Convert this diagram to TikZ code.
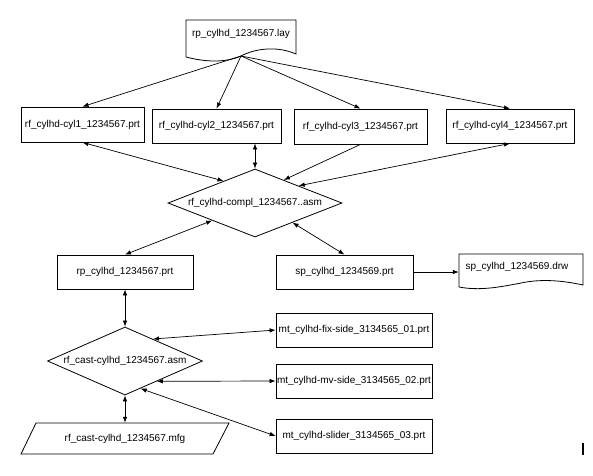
\documentclass[tikz,border=0pt]{standalone}
\usepackage{fontspec}
\setmainfont{Liberation Sans}
\usetikzlibrary{shapes.geometric,arrows.meta,calc}
\begin{document}
\begin{tikzpicture}[x=1pt,y=-1pt,
  txt/.style={font=\fontsize{10}{12}\selectfont, inner sep=0pt},
  box/.style={txt, draw, line width=0.8pt, rectangle},
  dia/.style={txt, draw, line width=0.8pt, diamond},
  ln/.style={line width=0.7pt},
  arr/.style={ln, -{Latex[length=6pt,width=4.5pt]}},
  biarr/.style={ln, {Latex[length=6pt,width=4.5pt]}-{Latex[length=6pt,width=4.5pt]}}]
\useasboundingbox (0,0) rectangle (593,475);
% document shape: lay
\draw[line width=0.8pt] (186,57) -- (186,20) -- (296,20) -- (296,54)
  .. controls (278,46) and (256,48) .. (241,56)
  .. controls (225,63) and (205,62) .. (186,57);
\node[txt] (lay) at (241,34) {rp\_cylhd\_1234567.lay};
\coordinate (layb) at (241,56);
% boxes
\node[box, minimum width=123pt, minimum height=35pt] (cyl1) at (82.5,124.5) {rf\_cylhd-cyl1\_1234567.prt};
\node[box, minimum width=129pt, minimum height=34pt] (cyl2) at (216.5,126) {rf\_cylhd-cyl2\_1234567.prt};
\node[box, minimum width=133pt, minimum height=35pt] (cyl3) at (360.5,126.5) {rf\_cylhd-cyl3\_1234567.prt};
\node[box, minimum width=128pt, minimum height=34pt] (cyl4) at (510,126) {rf\_cylhd-cyl4\_1234567.prt};
\node[dia, minimum width=174pt, minimum height=68pt, aspect=2.56] (compl) at (255,203) {rf\_cylhd-compl\_1234567..asm};
\node[box, minimum width=136pt, minimum height=34pt] (rp) at (125,272) {rp\_cylhd\_1234567.prt};
\node[box, minimum width=137pt, minimum height=34pt] (sp) at (344.5,272) {sp\_cylhd\_1234569.prt};
% document shape: drw
\draw[line width=0.8pt] (459,287) -- (459,254) -- (583,254) -- (583,285)
  .. controls (560,280) and (540,279) .. (521,283)
  .. controls (500,287) and (480,291) .. (459,287);
\node[txt, minimum width=124pt, minimum height=36pt] (drw) at (521,272) {};
\node[txt] (drwt) at (517,267) {sp\_cylhd\_1234569.drw};
\node[dia, minimum width=155pt, minimum height=68pt, aspect=2.28] (cast) at (125,361) {rf\_cast-cylhd\_1234567.asm};
\node[box, minimum width=156pt, minimum height=34pt] (fix) at (354,330) {mt\_cylhd-fix-side\_3134565\_01.prt};
\node[box, minimum width=156pt, minimum height=34pt] (mv) at (354,381) {mt\_cylhd-mv-side\_3134565\_02.prt};
\node[box, minimum width=156pt, minimum height=34pt] (slider) at (354,436) {mt\_cylhd-slider\_3134565\_03.prt};
% parallelogram mfg
\draw[line width=0.8pt] (36,423) -- (229,423) -- (213,454) -- (21,454) -- cycle;
\node[txt, minimum width=190pt, minimum height=31pt] (mfg) at (125,438.5) {rf\_cast-cylhd\_1234567.mfg};
% connectors
\draw[arr] (layb) -- (cyl1.north);
\draw[arr] (layb) -- (cyl2.north);
\draw[arr] (layb) -- (cyl3.north);
\draw[arr] (layb) -- (cyl4.north);
\draw[biarr] (cyl1.south) -- ($(compl.west)!0.64!(compl.north)$);
\draw[biarr] (compl.north |- cyl2.south) -- (compl.north);
\draw[arr] (cyl3.south) -- ($(compl.north)!0.33!(compl.east)$);
\draw[biarr] (cyl4.south) -- (compl.north east);
\draw[biarr] (rp.north) -- ($(compl.west)!0.51!(compl.south)$);
\draw[biarr] (sp.north) -- ($(compl.east)!0.57!(compl.south)$);
\draw[arr] (sp.east) -- (sp.east -| drw.west);
\draw[biarr] (rp.south) -- (cast.north);
\draw[biarr] (cast.south) -- (mfg.north);
\draw[biarr] (fix.west) -- ($(cast.north)!0.36!(cast.east)$);
\draw[biarr] (mv.west) -- ($(cast.east)!0.59!(cast.south)$);
\draw[biarr] (slider.west) -- ($(cast.east)!0.8!(cast.south)$);
% stray mark
\draw[line width=1.5pt] (583,443) -- (583,455);
\end{tikzpicture}
\end{document}
